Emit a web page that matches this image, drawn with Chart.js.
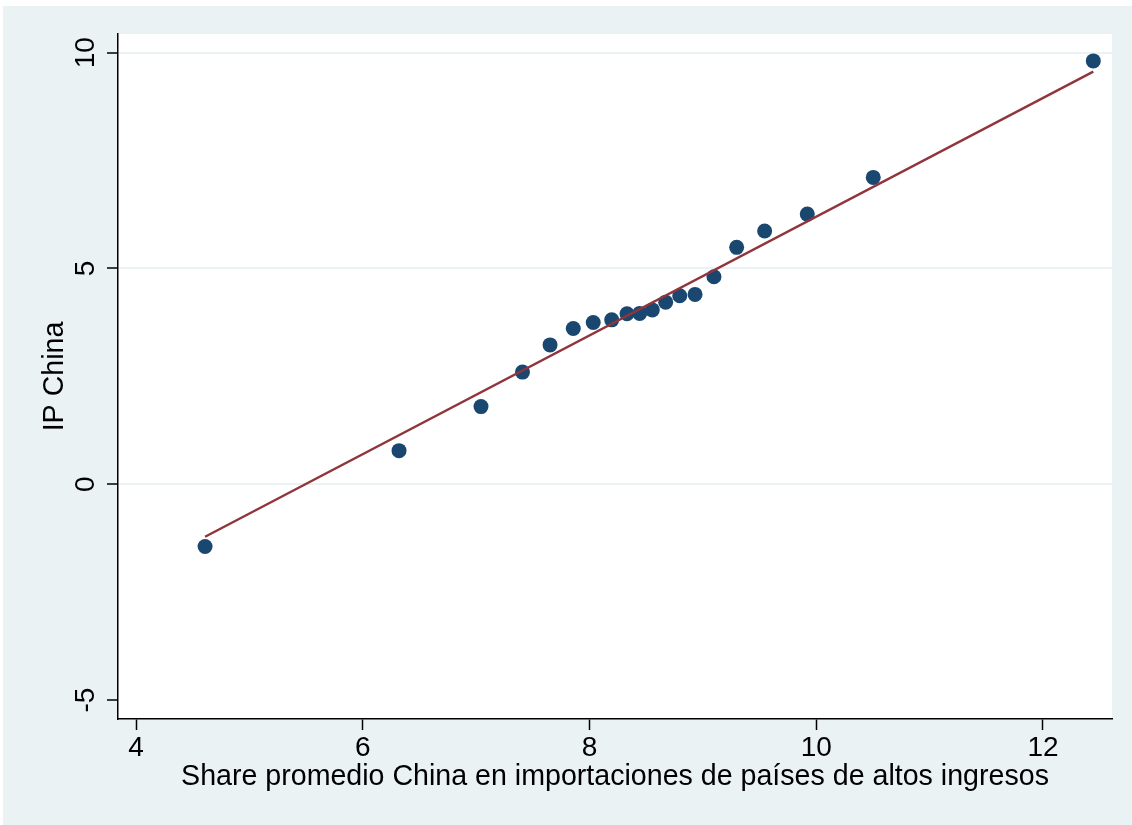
<!DOCTYPE html>
<html>
<head>
<meta charset="utf-8">
<script src="https://cdn.jsdelivr.net/npm/chart.js@4.4.1/dist/chart.umd.min.js"></script>
<style>
  html, body { margin: 0; padding: 0; background: #ffffff; }
  #wrap { width: 1132px; height: 825px; position: relative; }
</style>
</head>
<body>
<div id="wrap"><canvas id="grafico"></canvas></div>
<script>
// datos
const shareChina = [4.609, 6.320, 7.043, 7.409, 7.652, 7.857, 8.033, 8.196, 8.331, 8.443,
                    8.554, 8.672, 8.796, 8.931, 9.098, 9.298, 9.545, 9.921, 10.503, 12.444];
const ipChina = [-1.44, 0.78, 1.80, 2.60, 3.23, 3.61, 3.75, 3.81, 3.95, 3.96,
                 4.04, 4.22, 4.37, 4.40, 4.81, 5.49, 5.87, 6.26, 7.11, 9.81];
// recta de ajuste (extremos)
const ajusteX = [4.609, 12.444];
const ajusteY = [-1.214, 9.562];

const ticksX = [4, 6, 8, 10, 12];
const ticksY = [-5, 0, 5, 10];
const tituloX = 'Share promedio China en importaciones de países de altos ingresos';
const tituloY = 'IP China';

const FUENTE = "'Liberation Sans', Arial, Helvetica, sans-serif";
const fondo = '#eaf2f3';

// fondo de la region del grafico + area blanca
const fondoPlugin = {
    id: 'fondo',
    beforeDraw(chart) {
        const ctx = chart.ctx;
        const a = chart.chartArea;
        ctx.save();
        ctx.fillStyle = fondo;
        ctx.fillRect(3, 6, chart.width - 3, chart.height - 6);
        ctx.fillStyle = '#ffffff';
        ctx.fillRect(a.left, a.top, a.right - a.left, a.bottom - a.top);
        ctx.restore();
    },
    afterDraw(chart) {
        // etiquetas del eje y giradas + titulo
        const ctx = chart.ctx;
        const y = chart.scales.y;
        ctx.save();
        ctx.fillStyle = '#000000';
        ctx.textAlign = 'center';
        ctx.textBaseline = 'alphabetic';
        ctx.font = '28px ' + FUENTE;
        ticksY.forEach(v => {
            ctx.save();
            ctx.translate(93.5, y.getPixelForValue(v));
            ctx.rotate(-Math.PI / 2);
            ctx.fillText(String(v), 0, 0);
            ctx.restore();
        });
        ctx.font = '28.6px ' + FUENTE;
        ctx.translate(62.5, (chart.chartArea.top + chart.chartArea.bottom) / 2);
        ctx.rotate(-Math.PI / 2);
        ctx.fillText(tituloY, 0, 0);
        ctx.restore();
    }
};

const puntos = shareChina.map((x, i) => ({ x: x, y: ipChina[i] }));
const recta = ajusteX.map((x, i) => ({ x: x, y: ajusteY[i] }));

new Chart(document.getElementById('grafico'), {
    type: 'scatter',
    data: {
        datasets: [
            {
                label: 'Fitted values',
                data: recta,
                showLine: true,
                borderColor: '#90353b',
                borderWidth: 2.4,
                pointRadius: 0,
                order: 0
            },
            {
                label: 'IP China',
                data: puntos,
                backgroundColor: '#1a476f',
                borderColor: '#1a476f',
                borderWidth: 0,
                pointRadius: 7.5,
                order: 1
            }
        ]
    },
    options: {
        responsive: true,
        maintainAspectRatio: false,
        animation: false,
        layout: { padding: { top: 34, right: 20, left: 0, bottom: 0 } },
        plugins: {
            legend: { display: false },
            tooltip: { enabled: false }
        },
        scales: {
            x: {
                type: 'linear',
                min: 3.841,
                max: 12.609,
                afterBuildTicks: s => { s.ticks = ticksX.map(v => ({ value: v })); },
                afterFit: s => { s.height = 106; },
                border: { display: true, color: '#000000', width: 1.5 },
                grid: {
                    drawOnChartArea: false,
                    drawTicks: true,
                    tickLength: 11,
                    tickColor: '#000000',
                    tickWidth: 1.5
                },
                ticks: {
                    color: '#000000',
                    padding: 1,
                    maxRotation: 0,
                    font: { family: FUENTE, size: 28 }
                },
                title: {
                    display: true,
                    text: tituloX,
                    color: '#000000',
                    font: { family: FUENTE, size: 28.6 },
                    padding: { top: 0, bottom: 31 }
                }
            },
            y: {
                type: 'linear',
                min: -5.438,
                max: 10.433,
                afterBuildTicks: s => { s.ticks = ticksY.map(v => ({ value: v })); },
                afterFit: s => { s.width = 118; },
                border: { display: true, color: '#000000', width: 1.5 },
                grid: {
                    color: c => (c.tick && c.tick.value === -5) ? 'rgba(0,0,0,0)' : fondo,
                    lineWidth: 2,
                    drawTicks: true,
                    tickLength: 11,
                    tickColor: '#000000',
                    tickWidth: 1.5
                },
                ticks: { display: false }
            }
        }
    },
    plugins: [fondoPlugin]
});
</script>
</body>
</html>
